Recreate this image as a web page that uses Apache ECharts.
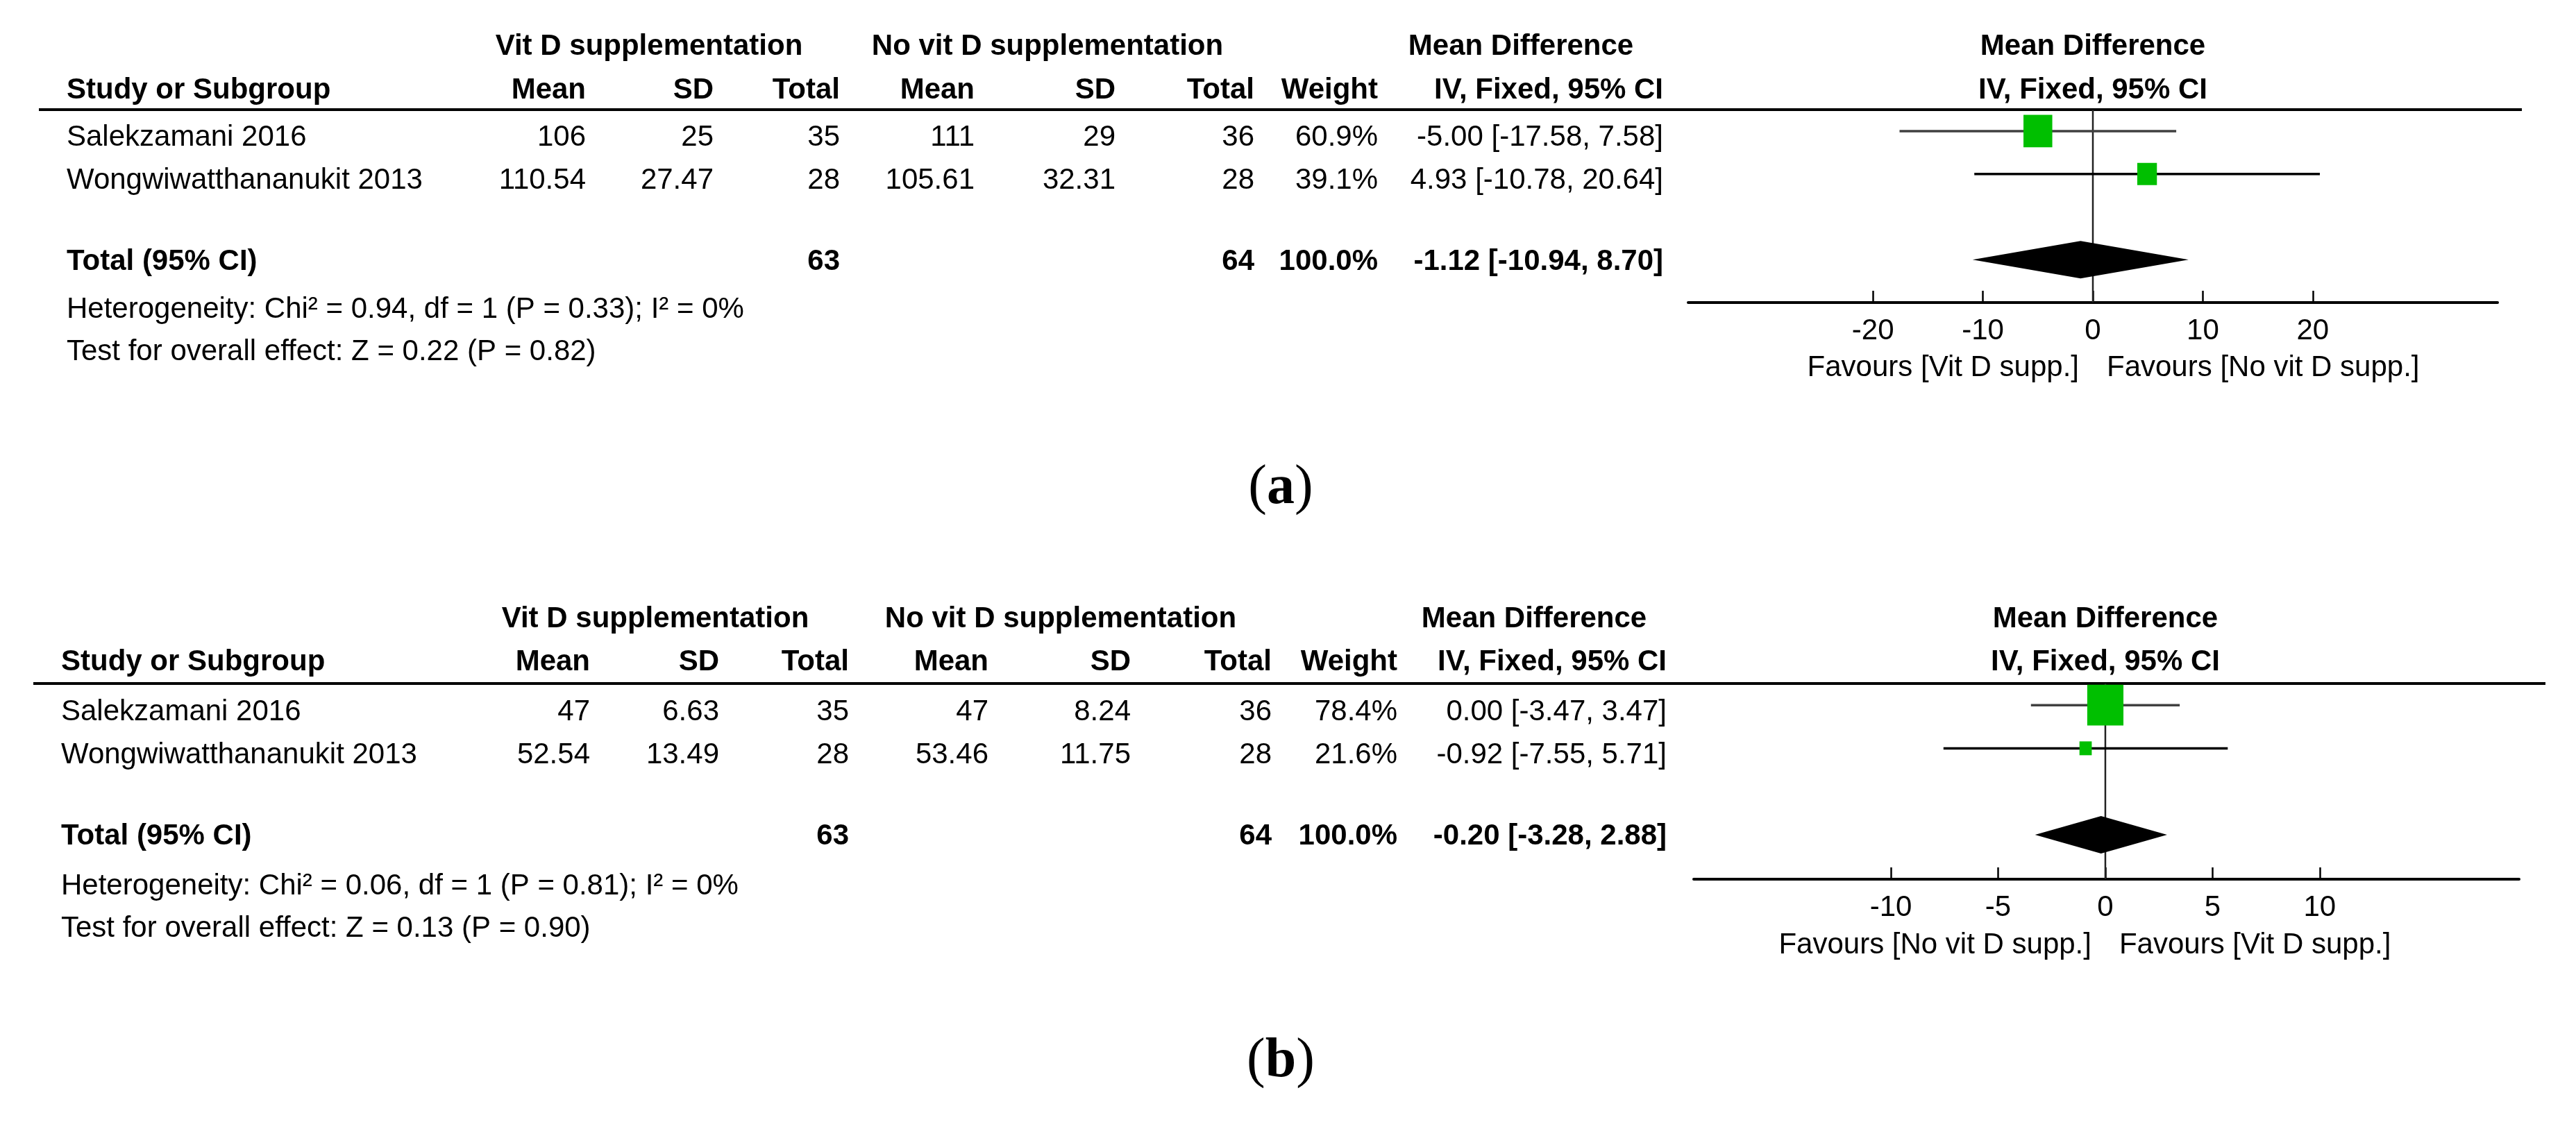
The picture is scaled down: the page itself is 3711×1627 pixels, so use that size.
<!DOCTYPE html>
<html>
<head>
<meta charset="utf-8">
<script src="https://cdn.jsdelivr.net/npm/echarts@6/dist/echarts.min.js"></script>
<style>
html,body{margin:0;padding:0;background:#fff;}
#c{width:3711px;height:1627px;}
</style>
</head>
<body>
<div id="c"></div>
<script>
// ---------------- DATA ----------------
const studies = ['Salekzamani 2016', 'Wongwiwatthananukit 2013'];
const groupHeads = ['Vit D supplementation', 'No vit D supplementation', 'Mean Difference'];
const colHeads = ['Mean', 'SD', 'Total', 'Mean', 'SD', 'Total', 'Weight', 'IV, Fixed, 95% CI'];
const studyHead = 'Study or Subgroup';
const totalLabel = 'Total (95% CI)';
const plotHeads = ['Mean Difference', 'IV, Fixed, 95% CI'];

// panel (a)
const aVitMean = [106, 110.54];
const aVitSD = [25, 27.47];
const aVitN = [35, 28];
const aNoMean = [111, 105.61];
const aNoSD = [29, 32.31];
const aNoN = [36, 28];
const aWeight = [60.9, 39.1];
const aMD = [-5.00, 4.93];
const aLow = [-17.58, -10.78];
const aHigh = [7.58, 20.64];
const aTotalN = [63, 64];
const aTotalWeight = 100.0;
const aTotal = [-1.12, -10.94, 8.70];
const aHet = 'Heterogeneity: Chi\u00b2 = 0.94, df = 1 (P = 0.33); I\u00b2 = 0%';
const aEffect = 'Test for overall effect: Z = 0.22 (P = 0.82)';
const aTicks = [-20, -10, 0, 10, 20];
const aFavours = ['Favours [Vit D supp.]', 'Favours [No vit D supp.]'];

// panel (b)
const bVitMean = [47, 52.54];
const bVitSD = [6.63, 13.49];
const bVitN = [35, 28];
const bNoMean = [47, 53.46];
const bNoSD = [8.24, 11.75];
const bNoN = [36, 28];
const bWeight = [78.4, 21.6];
const bMD = [0.00, -0.92];
const bLow = [-3.47, -7.55];
const bHigh = [3.47, 5.71];
const bTotalN = [63, 64];
const bTotalWeight = 100.0;
const bTotal = [-0.20, -3.28, 2.88];
const bHet = 'Heterogeneity: Chi\u00b2 = 0.06, df = 1 (P = 0.81); I\u00b2 = 0%';
const bEffect = 'Test for overall effect: Z = 0.13 (P = 0.90)';
const bTicks = [-10, -5, 0, 5, 10];
const bFavours = ['Favours [No vit D supp.]', 'Favours [Vit D supp.]'];

const panelTags = ['a', 'b'];

// ---------------- LAYOUT / STYLE ----------------
const FONT = '"Liberation Sans", Arial, sans-serif';
const FS = 42;
const GREEN = '#00bf00';
const CI_COLORS = ['#404040', '#000000'];
const TOTAL_ROW = 3;

const LAYOUT = [
  { ruleY: 158, ruleX: [56, 3633], head1: 82, head2: 145, studyX: 96,
    cols: [844, 1028, 1210, 1404, 1607, 1807, 1985, 2396], grp: [935, 1509, 2191],
    grid: { left: 2432, width: 1166, top: 158, height: 278 },
    xRange: [-36.8, 36.8], yRange: [-0.5, 4.0],
    foot: [461, 522], fav: 545, tag: 732, rowOff: 10, totOff: 3 },
  { ruleY: 985, ruleX: [48, 3667], head1: 907, head2: 969, studyX: 88,
    cols: [850, 1036, 1223, 1424, 1629, 1832, 2013, 2401], grp: [944, 1528, 2210],
    grid: { left: 2440, width: 1189, top: 985, height: 282 },
    xRange: [-19.2, 19.3], yRange: [-0.5, 4.03],
    foot: [1292, 1353], fav: 1377, tag: 1558, rowOff: 10, totOff: 3 }
];

const PANELS = [
  { vitMean: aVitMean, vitSD: aVitSD, vitN: aVitN, noMean: aNoMean, noSD: aNoSD, noN: aNoN,
    weight: aWeight, md: aMD, low: aLow, high: aHigh, totalN: aTotalN, totalWeight: aTotalWeight,
    total: aTotal, het: aHet, effect: aEffect, ticks: aTicks, favours: aFavours },
  { vitMean: bVitMean, vitSD: bVitSD, vitN: bVitN, noMean: bNoMean, noSD: bNoSD, noN: bNoN,
    weight: bWeight, md: bMD, low: bLow, high: bHigh, totalN: bTotalN, totalWeight: bTotalWeight,
    total: bTotal, het: bHet, effect: bEffect, ticks: bTicks, favours: bFavours }
];

function ciText(m, l, h) { return m.toFixed(2) + ' [' + l.toFixed(2) + ', ' + h.toFixed(2) + ']'; }
function font(bold) { return (bold ? 'bold ' : '') + FS + 'px ' + FONT; }

const chart = echarts.init(document.getElementById('c'), null, { renderer: 'canvas' });

const grids = [], xAxes = [], yAxes = [], series = [];

PANELS.forEach((P, i) => {
  const L = LAYOUT[i];
  grids.push({ left: L.grid.left, top: L.grid.top, width: L.grid.width, height: L.grid.height, containLabel: false });
  xAxes.push({
    gridIndex: i, type: 'value', min: L.xRange[0], max: L.xRange[1],
    axisLine: { show: true, onZero: false, lineStyle: { color: '#000', width: 4 } },
    axisTick: { show: true, inside: true, length: 17, customValues: P.ticks, lineStyle: { color: '#000', width: 2.5 } },
    axisLabel: { show: true, customValues: P.ticks, margin: 20, fontSize: FS, fontFamily: FONT, color: '#000' },
    splitLine: { show: false }
  });
  yAxes.push({ gridIndex: i, type: 'value', inverse: true, min: L.yRange[0], max: L.yRange[1], show: false });

  // zero reference line
  series.push({
    type: 'custom', xAxisIndex: i, yAxisIndex: i, z: 1, silent: true, animation: false,
    data: [[0, 0]],
    renderItem: function (params, api) {
      const cs = params.coordSys;
      const x = api.coord([api.value(0), 0])[0];
      return { type: 'line', shape: { x1: x, y1: cs.y, x2: x, y2: cs.y + cs.height },
               style: { stroke: '#222', lineWidth: 2.5 } };
    }
  });

  // study CIs and squares
  series.push({
    type: 'custom', xAxisIndex: i, yAxisIndex: i, z: 3, silent: true, animation: false,
    encode: { x: [0, 1, 2], y: 3 },
    data: studies.map((s, k) => [P.md[k], P.low[k], P.high[k], k, P.weight[k]]),
    renderItem: function (params, api) {
      const md = api.value(0), lo = api.value(1), hi = api.value(2), row = api.value(3), w = api.value(4);
      const c = api.coord([md, row]), a = api.coord([lo, row]), b = api.coord([hi, row]);
      const s = 4.9 + 0.645 * w;
      return { type: 'group', children: [
        { type: 'line', shape: { x1: a[0], y1: a[1], x2: b[0], y2: b[1] },
          style: { stroke: CI_COLORS[params.dataIndex], lineWidth: 3.5 } },
        { type: 'rect', shape: { x: c[0] - s * 0.47, y: c[1] - s * 0.53, width: s * 0.94, height: s * 1.06 },
          style: { fill: GREEN } }
      ] };
    }
  });

  // pooled diamond
  series.push({
    type: 'custom', xAxisIndex: i, yAxisIndex: i, z: 3, silent: true, animation: false,
    encode: { x: [0, 1, 2], y: 3 },
    data: [[P.total[0], P.total[1], P.total[2], TOTAL_ROW]],
    renderItem: function (params, api) {
      const row = api.value(3);
      const c = api.coord([api.value(0), row]);
      const a = api.coord([api.value(1), row]);
      const b = api.coord([api.value(2), row]);
      return { type: 'polygon', shape: { points: [a, [c[0], c[1] - 27], b, [c[0], c[1] + 27]] },
               style: { fill: '#000' } };
    }
  });

  // table rows (text aligned to the row scale)
  series.push({
    type: 'custom', xAxisIndex: i, yAxisIndex: i, z: 4, silent: true, animation: false, clip: false,
    encode: { x: 0, y: 1 },
    data: [[0, 0], [0, 1], [0, TOTAL_ROW]],
    renderItem: function (params, api) {
      const k = params.dataIndex;
      const isTot = k === 2;
      const yc = api.coord([0, api.value(1)])[1] + (isTot ? L.totOff : L.rowOff);
      let cells;
      if (!isTot) {
        cells = [String(P.vitMean[k]), String(P.vitSD[k]), String(P.vitN[k]),
                 String(P.noMean[k]), String(P.noSD[k]), String(P.noN[k]),
                 P.weight[k].toFixed(1) + '%', ciText(P.md[k], P.low[k], P.high[k])];
      } else {
        cells = ['', '', String(P.totalN[0]), '', '', String(P.totalN[1]),
                 P.totalWeight.toFixed(1) + '%', ciText(P.total[0], P.total[1], P.total[2])];
      }
      const children = [{ type: 'text', x: L.studyX, y: yc,
        style: { text: isTot ? totalLabel : studies[k], font: font(isTot), fill: '#000', align: 'left', verticalAlign: 'middle' } }];
      cells.forEach((t, j) => {
        if (!t) return;
        children.push({ type: 'text', x: L.cols[j], y: yc,
          style: { text: t, font: font(isTot), fill: '#000', align: 'right', verticalAlign: 'middle' } });
      });
      return { type: 'group', children: children };
    }
  });
});

chart.setOption({
  backgroundColor: '#fff',
  animation: false,
  grid: grids, xAxis: xAxes, yAxis: yAxes, series: series
});

// ---------------- static text & rules ----------------
function T(text, x, baseline, align, bold, size) {
  const fs = size || FS;
  return { type: 'text', x: x, y: baseline - 0.35 * fs, silent: true,
    style: { text: text, font: (bold ? 'bold ' : '') + fs + 'px ' + FONT, fill: '#000', align: align, verticalAlign: 'middle' } };
}

const graphics = [];
PANELS.forEach((P, i) => {
  const L = LAYOUT[i];
  const zx = chart.convertToPixel({ xAxisIndex: i }, 0);
  graphics.push({ type: 'line', silent: true, shape: { x1: L.ruleX[0], y1: L.ruleY, x2: L.ruleX[1], y2: L.ruleY },
                  style: { stroke: '#000', lineWidth: 4 } });
  graphics.push(T(groupHeads[0], L.grp[0], L.head1, 'center', true));
  graphics.push(T(groupHeads[1], L.grp[1], L.head1, 'center', true));
  graphics.push(T(groupHeads[2], L.grp[2], L.head1, 'center', true));
  graphics.push(T(plotHeads[0], zx, L.head1, 'center', true));
  graphics.push(T(studyHead, L.studyX, L.head2, 'left', true));
  colHeads.forEach((h, j) => graphics.push(T(h, L.cols[j], L.head2, 'right', true)));
  graphics.push(T(plotHeads[1], zx, L.head2, 'center', true));
  graphics.push(T(P.het, L.studyX, L.foot[0], 'left', false));
  graphics.push(T(P.effect, L.studyX, L.foot[1], 'left', false));
  graphics.push(T(P.favours[0], zx - 20, L.fav, 'right', false));
  graphics.push(T(P.favours[1], zx + 20, L.fav, 'left', false));
  graphics.push({ type: 'text', x: 1845, y: L.tag - 28, silent: true,
    style: { text: '{p|(}{b|' + panelTags[i] + '}{p|)}', align: 'center', verticalAlign: 'middle',
      rich: { p: { fontSize: 80, fontFamily: '"Liberation Serif", "DejaVu Serif", serif', fill: '#000' },
              b: { fontSize: 80, fontWeight: 'bold', fontFamily: '"Liberation Serif", "DejaVu Serif", serif', fill: '#000' } } } });
});
chart.setOption({ graphic: graphics });
</script>
</body>
</html>
